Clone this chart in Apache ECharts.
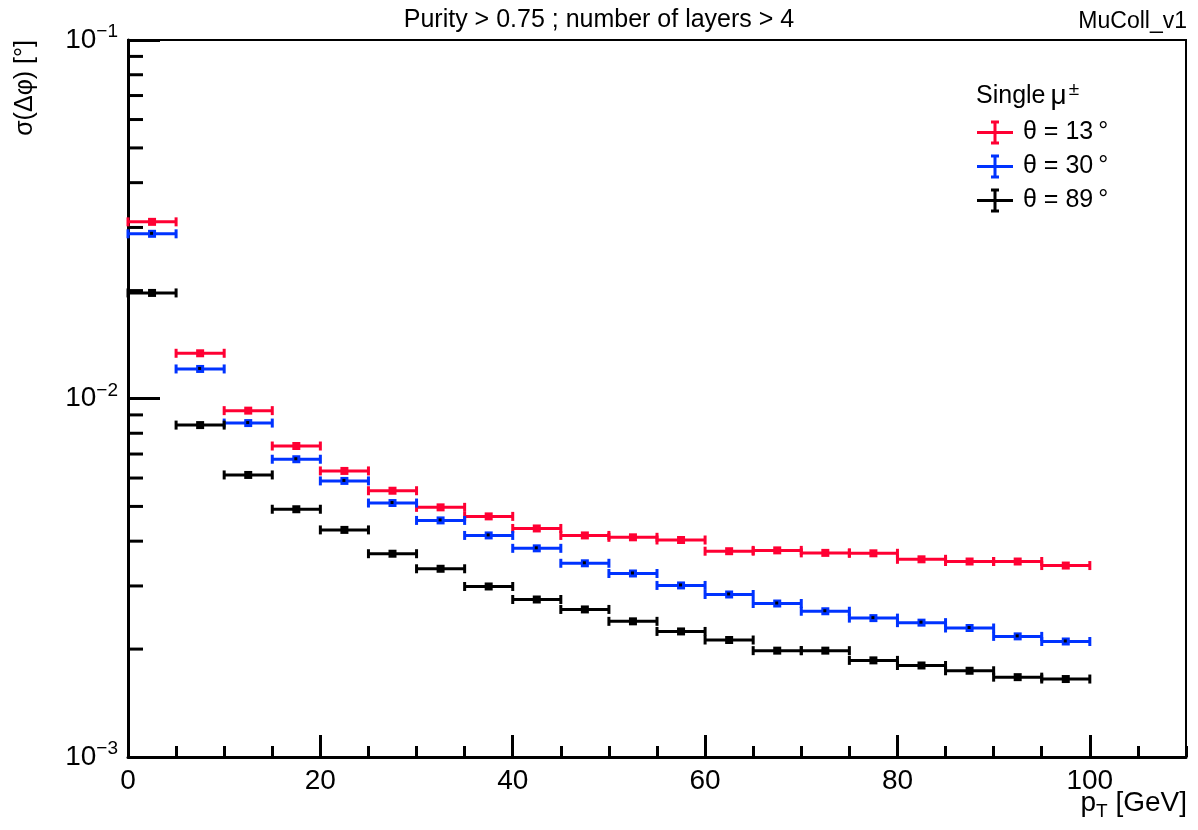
<!DOCTYPE html>
<html>
<head>
<meta charset="utf-8">
<title>sigma dphi vs pT</title>
<script src="https://cdn.jsdelivr.net/npm/echarts@6/dist/echarts.min.js"></script>
<style>
  html, body { margin: 0; padding: 0; background: #fff; }
  #main { width: 1198px; height: 830px; }
</style>
</head>
<body>
<div id="main"></div>
<script>
// bin edges in pT [GeV], 5 GeV bins
var binEdges = [0, 5, 10, 15, 20, 25, 30, 35, 40, 45, 50, 55, 60, 65, 70, 75, 80, 85, 90, 95, 100];

// sigma(dphi) [deg] per bin
var theta13 = [0.0311, 0.01337, 0.00925, 0.00737, 0.00628, 0.00553, 0.00497, 0.00469, 0.00434, 0.00415,
               0.00410, 0.00403, 0.00375, 0.00377, 0.00371, 0.00370, 0.00356, 0.00351, 0.00351, 0.00342];
var theta30 = [0.0288, 0.01209, 0.00854, 0.00677, 0.00589, 0.00511, 0.00457, 0.00415, 0.00382, 0.00347,
               0.00325, 0.00301, 0.00284, 0.00268, 0.00255, 0.00244, 0.00237, 0.00229, 0.00217, 0.00210];
var theta89 = [0.0197, 0.00843, 0.00612, 0.00491, 0.00430, 0.00369, 0.00335, 0.00299, 0.00275, 0.00258,
               0.00239, 0.00224, 0.00212, 0.00198, 0.00198, 0.00186, 0.00180, 0.00174, 0.00167, 0.00165];

var seriesNames = ['θ = 13\u2009°', 'θ = 30\u2009°', 'θ = 89\u2009°'];
var seriesColors = ['#ff0033', '#0033ff', '#000000'];

// log axis minor ticks (2..9 x 10^k)
var yMinorTicks = [0.002, 0.003, 0.004, 0.005, 0.006, 0.007, 0.008, 0.009,
                   0.02, 0.03, 0.04, 0.05, 0.06, 0.07, 0.08, 0.09];

var FONT = 'Liberation Sans, Arial, Helvetica, sans-serif';

function toBins(vals) {
	var out = [];
	for (var i = 0; i < vals.length; i++) {
		out.push([binEdges[i], binEdges[i + 1], vals[i]]);
	}
	return out;
}

function binRenderer(color, dot) {
	return function (params, api) {
		var lo = api.coord([api.value(0), api.value(2)]);
		var hi = api.coord([api.value(1), api.value(2)]);
		var y = lo[1];
		var mx = (lo[0] + hi[0]) / 2;
		var st = { stroke: color, lineWidth: 3 };
		var kids = [
			{ type: 'line', shape: { x1: lo[0], y1: y, x2: hi[0], y2: y }, style: st },
			{ type: 'line', shape: { x1: lo[0], y1: y - 4.5, x2: lo[0], y2: y + 4.5 }, style: st },
			{ type: 'line', shape: { x1: hi[0], y1: y - 4.5, x2: hi[0], y2: y + 4.5 }, style: st },
			{ type: 'rect', shape: { x: mx - 4, y: y - 4, width: 8, height: 8 }, style: { fill: color } }
		];
		if (dot) {
			kids.push({ type: 'rect', shape: { x: mx - 2, y: y - 2, width: 3, height: 3 }, style: { fill: '#000' } });
		}
		return { type: 'group', children: kids };
	};
}

var legendIcon = 'path://M0 10.5H36V13.5H0Z M16.5 0H19.5V24H16.5Z M14 0H22V3H14Z M14 21H22V24H14Z';

var chart = echarts.init(document.getElementById('main'), null, { renderer: 'canvas' });

var option = {
	backgroundColor: '#fff',
	animation: false,
	textStyle: { fontFamily: FONT },
	grid: {
		left: 128, right: 12, top: 40, bottom: 73,
		show: true, borderColor: '#000', borderWidth: 2
	},
	legend: {
		orient: 'vertical',
		left: 977, top: 120, padding: 0,
		itemWidth: 36, itemHeight: 24, itemGap: 9,
		textStyle: { fontSize: 25, color: '#000', fontFamily: FONT, padding: [0, 0, 0, 5] },
		selectedMode: false,
		data: [
			{ name: seriesNames[0], icon: legendIcon },
			{ name: seriesNames[1], icon: legendIcon },
			{ name: seriesNames[2], icon: legendIcon }
		]
	},
	xAxis: [
		{
			type: 'value', min: 0, max: 110, interval: 20,
			axisLine: { show: true, onZero: false, lineStyle: { color: '#000', width: 3 } },
			axisTick: { show: true, inside: true, length: 22, lineStyle: { color: '#000', width: 3 } },
			axisLabel: {
				fontSize: 28, color: '#000', margin: 10, fontFamily: FONT,
				showMaxLabel: false,
				formatter: function (v) { return v > 100 ? '' : String(v); }
			},
			splitLine: { show: false }
		},
		{
			type: 'value', min: 0, max: 110, interval: 5, position: 'bottom',
			axisLine: { show: false },
			axisTick: { show: true, inside: true, length: 11, lineStyle: { color: '#000', width: 3 } },
			axisLabel: { show: false },
			splitLine: { show: false }
		}
	],
	yAxis: {
		type: 'log', logBase: 10, min: 0.001, max: 0.1,
		axisLine: { show: true, lineStyle: { color: '#000', width: 3 } },
		axisTick: { show: true, inside: true, length: 32, lineStyle: { color: '#000', width: 3 } },
		axisLabel: {
			margin: 10, color: '#000', fontFamily: FONT,
			formatter: function (v) {
				var e = Math.round(Math.log(v) / Math.LN10);
				return '{b|10}{s|\u2212' + Math.abs(e) + '}';
			},
			rich: {
				b: { fontSize: 28, fontFamily: FONT, color: '#000' },
				s: { fontSize: 19, fontFamily: FONT, color: '#000', padding: [0, 0, 16, 0] }
			}
		},
		splitLine: { show: false }
	},
	graphic: [
		{
			type: 'text', left: 'center', top: 8, x: 14,
			style: { text: 'Purity > 0.75 ; number of layers > 4', fontSize: 25, fontFamily: FONT, fill: '#000' }
		},
		{
			type: 'text', right: 11, top: 10,
			style: { text: 'MuColl_v1', fontSize: 23, fontFamily: FONT, fill: '#000' }
		},
		{
			type: 'text', x: 25, y: 40, rotation: Math.PI / 2,
			style: {
				text: 'σ(Δφ) [°]', fontSize: 25, fontFamily: FONT, fill: '#000',
				align: 'right', verticalAlign: 'middle'
			}
		},
		{
			type: 'text', right: 11, top: 789,
			style: {
				text: '{a|p}{t|T}{a| [GeV]}',
				rich: {
					a: { fontSize: 28, fontFamily: FONT, fill: '#000' },
					t: { fontSize: 19, fontFamily: FONT, fill: '#000', padding: [18, 0, 0, 0] }
				}
			}
		},
		{
			type: 'text', left: 976, top: 80,
			style: {
				text: '{a|Single}{m|μ}{s|±}',
				rich: {
					a: { fontSize: 25, fontFamily: FONT, fill: '#000' },
					m: { fontSize: 28, fontFamily: FONT, fill: '#000', padding: [0, 0, 0, 5] },
					s: { fontSize: 19, fontFamily: FONT, fill: '#000', padding: [0, 0, 14, 2] }
				}
			}
		}
	],
	series: [
		{
			name: 'yMinorTicks', type: 'custom', xAxisIndex: 0, silent: true,
			data: yMinorTicks.map(function (v) { return [0, v]; }),
			encode: { x: 0, y: 1 },
			renderItem: function (params, api) {
				var p = api.coord([0, api.value(1)]);
				return {
					type: 'line',
					shape: { x1: p[0], y1: p[1], x2: p[0] + 15, y2: p[1] },
					style: { stroke: '#000', lineWidth: 3 }
				};
			}
		},
		{
			name: seriesNames[0], type: 'custom', xAxisIndex: 0,
			itemStyle: { color: seriesColors[0] },
			data: toBins(theta13), encode: { x: [0, 1], y: 2 },
			renderItem: binRenderer(seriesColors[0], false)
		},
		{
			name: seriesNames[1], type: 'custom', xAxisIndex: 0,
			itemStyle: { color: seriesColors[1] },
			data: toBins(theta30), encode: { x: [0, 1], y: 2 },
			renderItem: binRenderer(seriesColors[1], true)
		},
		{
			name: seriesNames[2], type: 'custom', xAxisIndex: 0,
			itemStyle: { color: seriesColors[2] },
			data: toBins(theta89), encode: { x: [0, 1], y: 2 },
			renderItem: binRenderer(seriesColors[2], false)
		}
	]
};

chart.setOption(option);
</script>
</body>
</html>
